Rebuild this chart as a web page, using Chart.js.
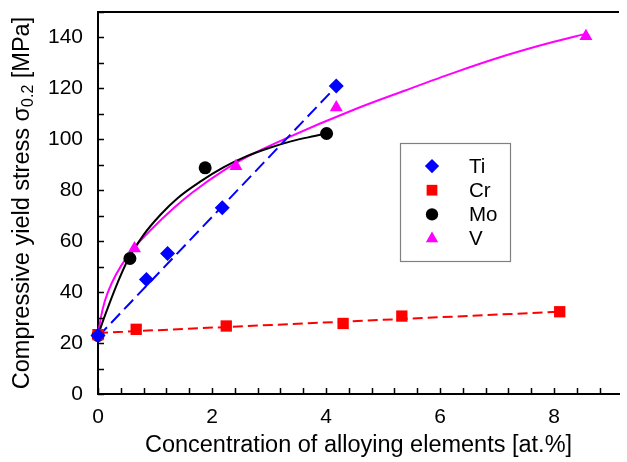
<!DOCTYPE html>
<html>
<head>
<meta charset="utf-8">
<script src="https://cdn.jsdelivr.net/npm/chart.js@4.4.1/dist/chart.umd.min.js"></script>
<style>
  body { margin: 0; background: #fff; }
  #wrap { width: 627px; height: 462px; }
</style>
</head>
<body>
<div id="wrap"><canvas id="c" width="627" height="462"></canvas></div>
<script>
// measured points
const tiX = [0, 0.85, 1.22, 2.18, 4.18];
const tiY = [23, 45, 55.2, 73.1, 120.9];
const crX = [0, 0.67, 2.25, 4.3, 5.33, 8.1];
const crY = [23.3, 25.4, 26.7, 27.7, 30.6, 32.3];
const moX = [0, 0.56, 1.88, 4.01];
const moY = [23, 53.2, 88.8, 102.3];
const vX = [0, 0.64, 2.42, 4.18, 8.56];
const vY = [23, 57.1, 89.4, 112.5, 140.5];

// fit lines
const tiFitX = [0, 4.19];
const tiFitY = [22.5, 121];
const crFitX = [0, 8.1];
const crFitY = [24, 32.3];
const moFitX = [0, 0.1, 0.2, 0.35, 0.52, 0.8, 1.1, 1.4, 1.8, 2.2, 2.6, 3.0, 3.4, 3.8, 4.01];
const moFitY = [23, 29.5, 35.5, 44, 52.5, 62.5, 70.5, 77, 83.5, 89, 93.3, 96.6, 99.3, 101.3, 102.3];
const vFitX = [0, 0.05, 0.12, 0.24, 0.41, 0.64, 0.93, 1.33, 1.65, 2.22, 2.63, 3.26, 4.53, 5.39, 6.25, 7.12, 7.98, 8.56];
const vFitY = [23, 30, 36.5, 43.5, 50.5, 57.5, 64.5, 73, 79, 88, 93.3, 100, 112, 119.2, 126.2, 132.7, 138.2, 141.4];

const xTicks = [0, 2, 4, 6, 8];
const yTicks = [0, 20, 40, 60, 80, 100, 120, 140];

const FONT = 'Liberation Sans, Arial, sans-serif';

function pts(xs, ys) {
  return xs.map((x, i) => ({ x: x, y: ys[i] }));
}

function markerSet(label, xs, ys, color, style, r) {
  return {
    label: label,
    data: pts(xs, ys),
    showLine: false,
    pointStyle: style,
    pointRadius: r,
    pointHoverRadius: r,
    backgroundColor: color,
    borderColor: color,
    borderWidth: 0,
    clip: false,
    order: 0,
    isMarker: true
  };
}

function fitSet(xs, ys, color, dash) {
  return {
    label: '',
    data: pts(xs, ys),
    showLine: true,
    pointRadius: 0,
    borderColor: color,
    borderWidth: 2,
    borderDash: dash,
    cubicInterpolationMode: 'monotone',
    clip: false,
    order: 1,
    isMarker: false
  };
}

// inward tick marks, top frame line
const frame = {
  id: 'frame',
  afterDatasetsDraw(chart) {
    const ctx = chart.ctx;
    const a = chart.chartArea;
    const xs = chart.scales.x, ys = chart.scales.y;
    ctx.save();
    ctx.strokeStyle = '#000';
    ctx.lineWidth = 1.5;
    ctx.beginPath();
    xs.ticks.forEach(t => {
      const px = Math.round(xs.getPixelForValue(t.value)) + 0.5;
      ctx.moveTo(px, a.bottom);
      ctx.lineTo(px, a.bottom - 6);
    });
    ys.ticks.forEach(t => {
      const py = Math.round(ys.getPixelForValue(t.value)) + 0.5;
      ctx.moveTo(a.left, py);
      ctx.lineTo(a.left + 6, py);
    });
    ctx.stroke();
    ctx.lineWidth = 2;
    ctx.beginPath();
    ctx.moveTo(a.left, a.top);
    ctx.lineTo(a.right, a.top);
    ctx.stroke();
    ctx.restore();
  }
};

// y title with subscript
const yTitle = {
  id: 'yTitle',
  afterDraw(chart) {
    const ctx = chart.ctx;
    const a = chart.chartArea;
    const p1 = 'Compressive yield stress \u03c3';
    const sub = '0.2';
    const p2 = ' [MPa]';
    ctx.save();
    ctx.fillStyle = '#000';
    ctx.textBaseline = 'middle';
    ctx.font = '23.5px ' + FONT;
    const w1 = ctx.measureText(p1).width;
    const w3 = ctx.measureText(p2).width;
    ctx.font = '16px ' + FONT;
    const w2 = ctx.measureText(sub).width;
    const total = w1 + w2 + w3;
    ctx.translate(23, (a.top + a.bottom) / 2);
    ctx.rotate(-Math.PI / 2);
    let x = -total / 2;
    ctx.font = '23.5px ' + FONT;
    ctx.fillText(p1, x, 0);
    x += w1;
    ctx.font = '16px ' + FONT;
    ctx.fillText(sub, x, 6);
    x += w2;
    ctx.font = '23.5px ' + FONT;
    ctx.fillText(p2, x, 0);
    ctx.restore();
  }
};

function drawShape(ctx, style, x, y, r, color) {
  ctx.fillStyle = color;
  ctx.beginPath();
  if (style === 'rectRot') {
    ctx.moveTo(x, y - r); ctx.lineTo(x + r, y); ctx.lineTo(x, y + r); ctx.lineTo(x - r, y);
  } else if (style === 'rect') {
    const s = r * Math.SQRT1_2;
    ctx.rect(x - s, y - s, 2 * s, 2 * s);
  } else if (style === 'circle') {
    ctx.arc(x, y, r, 0, Math.PI * 2);
  } else if (style === 'triangle') {
    ctx.moveTo(x, y - r);
    ctx.lineTo(x + r * 0.866, y + r * 0.5);
    ctx.lineTo(x - r * 0.866, y + r * 0.5);
  }
  ctx.closePath();
  ctx.fill();
}

// boxed legend inside the plot
const boxLegend = {
  id: 'boxLegend',
  afterDraw(chart) {
    const ctx = chart.ctx;
    const sets = chart.data.datasets.filter(d => d.isMarker);
    ctx.save();
    ctx.fillStyle = '#fff';
    ctx.fillRect(400, 143, 110, 118);
    ctx.strokeStyle = '#808080';
    ctx.lineWidth = 1.2;
    ctx.strokeRect(400.5, 143.5, 110, 118);
    sets.forEach((d, i) => {
      const y = 166 + i * 24.2;
      drawShape(ctx, d.pointStyle, 432, y, d.pointRadius * 0.95, d.backgroundColor);
      ctx.fillStyle = '#000';
      ctx.font = '20.5px ' + FONT;
      ctx.textBaseline = 'middle';
      ctx.fillText(d.label, 469, y + 1);
    });
    ctx.restore();
  }
};

new Chart(document.getElementById('c'), {
  type: 'scatter',
  data: {
    datasets: [
      markerSet('Ti', tiX, tiY, '#0000ff', 'rectRot', 7.5),
      markerSet('Cr', crX, crY, '#ff0000', 'rect', 8),
      markerSet('Mo', moX, moY, '#000000', 'circle', 6.5),
      markerSet('V', vX, vY, '#ff00ff', 'triangle', 7.5),
      fitSet(tiFitX, tiFitY, '#0000ff', [13, 6]),
      fitSet(crFitX, crFitY, '#ff0000', [10, 5]),
      fitSet(moFitX, moFitY, '#000000', []),
      fitSet(vFitX, vFitY, '#ff00ff', [])
    ]
  },
  options: {
    responsive: false,
    animation: false,
    layout: { padding: { top: 12, right: 0, left: 0, bottom: 0 } },
    plugins: {
      legend: { display: false },
      tooltip: { enabled: false }
    },
    scales: {
      x: {
        type: 'linear',
        min: 0,
        max: 9.14,
        afterFit(s) { s.height = 68; s.paddingLeft = 0; s.paddingRight = 0; },
        border: { display: true, color: '#000', width: 2 },
        grid: { display: true, drawOnChartArea: false, drawTicks: false },
        ticks: {
          stepSize: 0.4,
          includeBounds: false,
          autoSkip: false,
          maxRotation: 0,
          padding: 11,
          color: '#000',
          font: { family: FONT, size: 21 },
          callback: v => {
            const r = Math.round(v * 10) / 10;
            return xTicks.includes(r) ? String(r) : '';
          }
        },
        title: {
          display: true,
          text: 'Concentration of alloying elements [at.%]',
          color: '#000',
          font: { family: FONT, size: 23.5 },
          padding: { top: 0, bottom: 2 }
        }
      },
      y: {
        min: 0,
        max: 150,
        afterFit(s) { s.width = 98; s.paddingTop = 0; s.paddingBottom = 0; },
        border: { display: true, color: '#000', width: 2 },
        grid: { display: true, drawOnChartArea: false, drawTicks: false },
        ticks: {
          stepSize: 10,
          includeBounds: false,
          autoSkip: false,
          padding: 15,
          color: '#000',
          font: { family: FONT, size: 21 },
          callback: v => yTicks.includes(v) ? String(v) : ''
        }
      }
    }
  },
  plugins: [frame, yTitle, boxLegend]
});
</script>
</body>
</html>
